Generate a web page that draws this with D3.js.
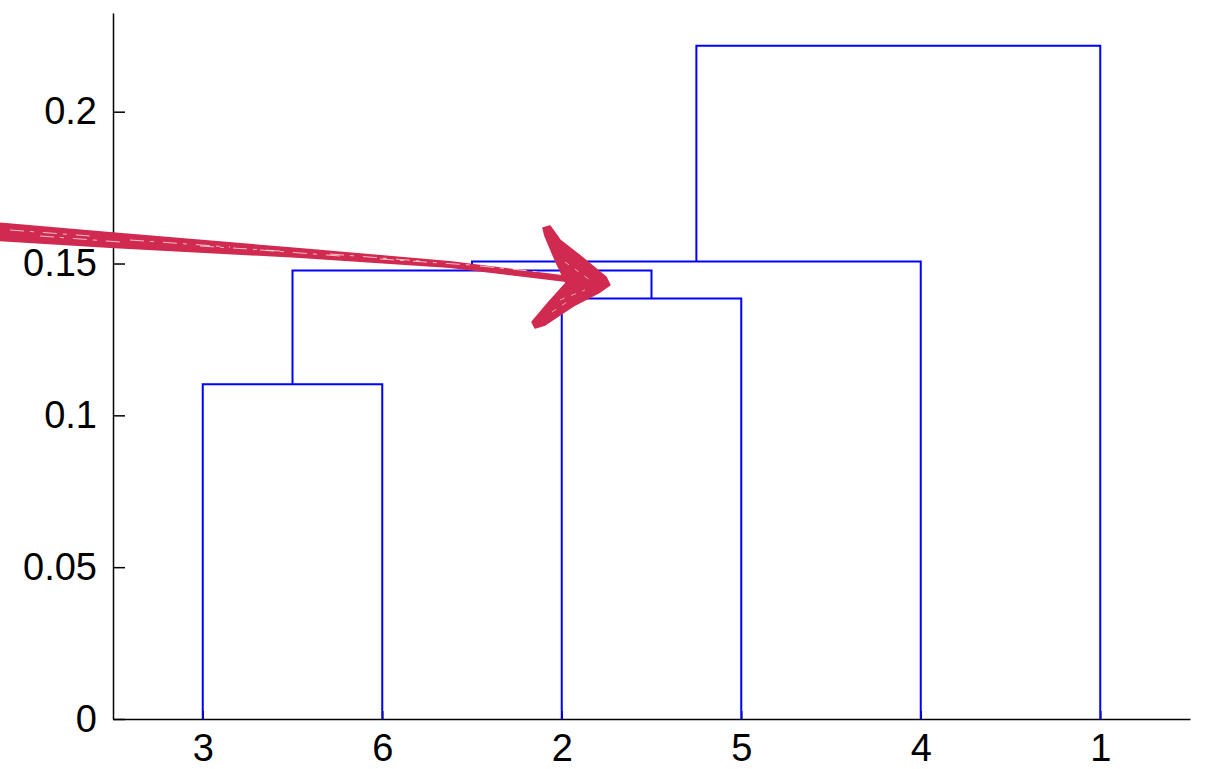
<!DOCTYPE html>
<html>
<head>
<meta charset="utf-8">
<script src="https://cdn.jsdelivr.net/npm/d3@7/dist/d3.min.js"></script>
<style>
  html, body { margin: 0; padding: 0; background: #fff; }
  svg { display: block; }
  text { font-family: "Liberation Sans", Arial, Helvetica, sans-serif; }
</style>
</head>
<body>
<svg id="chart" width="1206" height="769"></svg>
<script>
// ---- Data ----
// leaf order along the x axis (dendrogram order)
const leafOrder = [3, 6, 2, 5, 4, 1];
// linkage rows: clusterA, clusterB, merge height; ids > 6 refer to earlier rows (7 = first row ...)
const linkA = [3, 2, 7, 9, 10];
const linkB = [6, 5, 8, 4, 1];
const linkHeight = [0.1102, 0.1385, 0.1477, 0.1507, 0.2217];
const yTicks = [0, 0.05, 0.1, 0.15, 0.2];

// ---- Layout ----
const mLeft = 113, mRight = 1190, mTop = 13, mBottom = 719;
const svg = d3.select("#chart");

const x = d3.scaleLinear().domain([0.5, leafOrder.length + 0.5]).range([mLeft, mRight]);
const y = d3.scaleLinear().domain([0, 0.2325]).range([mBottom, mTop]);

// positions of leaves and clusters
const pos = {};
leafOrder.forEach((leaf, i) => { pos[leaf] = { x: i + 1, h: 0 }; });
const nLeaves = leafOrder.length;
linkA.forEach((a, i) => {
  const b = linkB[i], h = linkHeight[i];
  pos[nLeaves + 1 + i] = { x: (pos[a].x + pos[b].x) / 2, h: h };
});

// ---- Axes ----
const yAxis = d3.axisLeft(y).tickValues(yTicks).tickFormat(d => d3.format("")(d))
  .tickSizeInner(-12).tickSizeOuter(0).tickPadding(16);
const gy = svg.append("g").attr("transform", `translate(${mLeft},0)`).call(yAxis);
gy.attr("font-size", 38).attr("font-family", "'Liberation Sans', Arial, sans-serif");
gy.select(".domain").attr("stroke", "#000").attr("stroke-width", 1.5);
gy.selectAll(".tick line").attr("stroke", "#000").attr("stroke-width", 1.5);
gy.selectAll(".tick text").attr("fill", "#000").style("font-size", "38px");

const xAxis = d3.axisBottom(x).tickValues(d3.range(1, nLeaves + 1))
  .tickFormat((d) => leafOrder[d - 1]).tickSizeInner(-8).tickSizeOuter(0).tickPadding(15);
const gx = svg.append("g").attr("transform", `translate(0,${mBottom})`).call(xAxis);
gx.attr("font-size", 38).attr("font-family", "'Liberation Sans', Arial, sans-serif");
gx.select(".domain").attr("stroke", "#000").attr("stroke-width", 1.5);
gx.selectAll(".tick line").attr("stroke", "#000").attr("stroke-width", 1.5);
gx.selectAll(".tick text").attr("fill", "#000").style("font-size", "38px");

// ---- Dendrogram links ----
const gl = svg.append("g").attr("fill", "none").attr("stroke", "#0000ff").attr("stroke-width", 2);
linkA.forEach((a, i) => {
  const b = linkB[i], h = linkHeight[i];
  const pa = pos[a], pb = pos[b];
  const p = d3.path();
  p.moveTo(x(pa.x), y(pa.h));
  p.lineTo(x(pa.x), y(h));
  p.lineTo(x(pb.x), y(h));
  p.lineTo(x(pb.x), y(pb.h));
  gl.append("path").attr("d", p.toString());
});

// ---- Hand-drawn annotation arrow ----
const red = "#d12a50";
const ga = svg.append("g");
// tapered shaft
ga.append("path")
  .attr("d", "M -5 222 L 110 232 L 300 248 L 450 261 L 562 275 L 566 282 L 450 268 L 300 258 L 110 248 L -5 241 Z")
  .attr("fill", red);
// white streaks giving a sketchy texture
[[10, 230, 90, 236], [130, 240, 230, 247], [260, 250, 340, 256], [380, 259, 470, 265],
 [40, 236, 120, 242], [200, 246, 280, 251], [330, 254, 420, 261], [480, 266, 540, 272]].forEach(s => {
  ga.append("line").attr("x1", s[0]).attr("y1", s[1]).attr("x2", s[2]).attr("y2", s[3])
    .attr("stroke", "#fff").attr("stroke-width", 1).attr("stroke-dasharray", "14 6 4 9")
    .attr("opacity", 0.7);
});
// chevron head (filled)
ga.append("path")
  .attr("d", "M 543 228 L 550 226 L 560 240 L 583 258 L 606 277 L 610 285 L 600 292 L 575 305 L 545 325 L 535 328 L 532 322 L 548 303 L 566 283 L 556 262 L 545 236 Z")
  .attr("fill", red).attr("stroke", red).attr("stroke-width", 1.5).attr("stroke-linejoin", "round");
[[565, 262, 590, 280], [560, 300, 585, 290], [552, 312, 570, 300]].forEach(s => {
  ga.append("line").attr("x1", s[0]).attr("y1", s[1]).attr("x2", s[2]).attr("y2", s[3])
    .attr("stroke", "#fff").attr("stroke-width", 1).attr("stroke-dasharray", "5 7")
    .attr("opacity", 0.6);
});
</script>
</body>
</html>
